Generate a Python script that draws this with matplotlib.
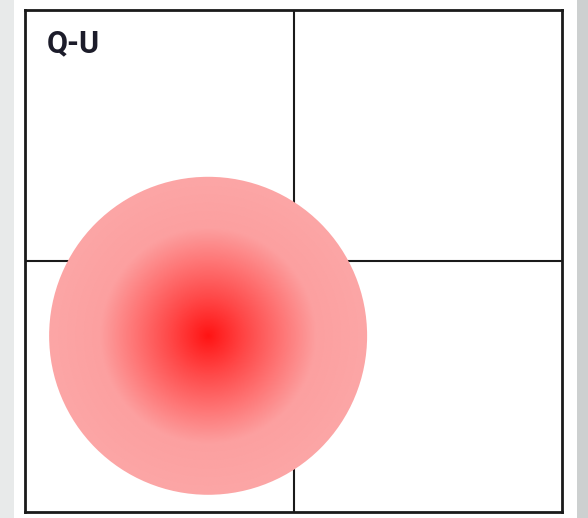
import numpy as np
import matplotlib
matplotlib.use("Agg")
import matplotlib.pyplot as plt
from matplotlib.colors import LinearSegmentedColormap
from matplotlib.patches import Ellipse

# quadrant split and bubble (axes units 0..1)
x_split = 0.5
y_split = 0.5
bubble_x = [0.341]
bubble_y = [0.351]
bubble_r_px = [159]
quad_label = "Q-U"

W, H, DPI = 588, 518, 100
fig = plt.figure(figsize=(W / DPI, H / DPI), dpi=DPI)
fig.patch.set_facecolor("white")

# grey edges of the page
bg = fig.add_axes([0, 0, 1, 1], zorder=-10)
bg.set_axis_off()
bg.set_xlim(0, W)
bg.set_ylim(H, 0)
bg.axvspan(0, 14, color="#e8eaea", lw=0)
bg.axvspan(577, W, color="#cdd0d0", lw=0)

# plot box in pixels: x 25..562, y 10..512
left, right, top, bottom = 25, 562, 10, 512
ax = fig.add_axes([left / W, 1 - bottom / H, (right - left) / W, (bottom - top) / H])
ax.set_xlim(0, 1)
ax.set_ylim(0, 1)
ax.set_xticks([])
ax.set_yticks([])
for s in ax.spines.values():
    s.set_linewidth(2)
    s.set_color("#1a1a1a")

ax.axvline(x_split, color="#1a1a1a", lw=1.5, zorder=1)
ax.axhline(y_split, color="#1a1a1a", lw=1.5, zorder=1)

pw, ph = right - left, bottom - top
cmap = LinearSegmentedColormap.from_list(
    "bub", [(0.0, "#ff1414"), (0.25, "#ff4a4a"), (0.5, "#fe7c7c"),
            (0.68, "#fca0a0"), (1.0, "#fca6a6")]
)
for cx, cy, rp in zip(bubble_x, bubble_y, bubble_r_px):
    xs = np.linspace(0, 1, 700)
    ys = np.linspace(0, 1, 700)
    X, Y = np.meshgrid(xs, ys)
    d = np.sqrt(((X - cx) * pw) ** 2 + ((Y - cy) * ph) ** 2) / rp
    im = ax.imshow(np.clip(d, 0, 1), cmap=cmap, vmin=0, vmax=1, origin="lower",
                   extent=[0, 1, 0, 1], aspect="auto", zorder=2, interpolation="bilinear")
    clip = Ellipse((cx, cy), 2 * rp / pw, 2 * rp / ph, transform=ax.transData,
                   facecolor="none", edgecolor="none")
    ax.add_patch(clip)
    im.set_clip_path(clip)

ax.text(47 / W, 1 - 28 / H, quad_label, transform=fig.transFigure,
        ha="left", va="top", fontsize=22, fontweight="bold", color="#1c1c2a",
        family=["Roboto", "DejaVu Sans"], zorder=5)

fig.savefig("out.png", dpi=DPI)
